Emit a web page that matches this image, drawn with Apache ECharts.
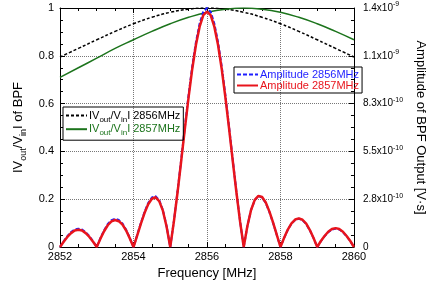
<!DOCTYPE html>
<html>
<head>
<meta charset="utf-8">
<script src="https://cdn.jsdelivr.net/npm/echarts@6/dist/echarts.min.js"></script>
<style>
  html, body { margin: 0; padding: 0; background: #fff; }
  #main { width: 435px; height: 287px; }
</style>
</head>
<body>
<div id="main"></div>
<script>
// sampling grid of the BPF output amplitude curves [MHz]
const fineFreq = [
  2852.0, 2852.1, 2852.2, 2852.3, 2852.4, 2852.5, 2852.6, 2852.7, 2852.8, 2852.9,
  2853.0, 2853.1, 2853.2, 2853.3, 2853.4, 2853.5, 2853.6, 2853.7, 2853.8, 2853.9,
  2854.0, 2854.1, 2854.2, 2854.3, 2854.4, 2854.5, 2854.6, 2854.7, 2854.8, 2854.9,
  2855.0, 2855.1, 2855.2, 2855.3, 2855.4, 2855.5, 2855.6, 2855.7, 2855.8, 2855.9,
  2856.0, 2856.1, 2856.2, 2856.3, 2856.4, 2856.5, 2856.6, 2856.7, 2856.8, 2856.9,
  2857.0, 2857.1, 2857.2, 2857.3, 2857.4, 2857.5, 2857.6, 2857.7, 2857.8, 2857.9,
  2858.0, 2858.1, 2858.2, 2858.3, 2858.4, 2858.5, 2858.6, 2858.7, 2858.8, 2858.9,
  2859.0, 2859.1, 2859.2, 2859.3, 2859.4, 2859.5, 2859.6, 2859.7, 2859.8, 2859.9,
  2860.0
];

// amplitude of BPF output, normalised to the right axis (1 = 1.4x10^-9 V*s)
const amp2856 = [
  0, .024, .045, .062, .073, .077, .073, .062, .045, .024,
  0, .037, .070, .096, .112, .118, .113, .098, .072, .038,
  0, .050, .100, .146, .184, .207, .213, .196, .155, .088,
  0, .109, .234, .368, .505, .637, .757, .858, .935, .984,
  1.0, .984, .935, .858, .757, .637, .505, .368, .234, .109,
  0, .088, .155, .196, .213, .207, .184, .146, .100, .050,
  0, .038, .072, .098, .113, .118, .112, .096, .070, .037,
  0, .024, .045, .062, .073, .077, .073, .062, .045, .024,
  0
];
const amp2857 = [
  0, .022, .042, .058, .069, .072, .069, .058, .042, .022,
  0, .035, .066, .091, .107, .113, .108, .094, .069, .036,
  0, .048, .097, .142, .179, .202, .208, .192, .152, .086,
  0, .107, .230, .362, .497, .627, .746, .846, .922, .970,
  .985, .970, .922, .846, .746, .627, .497, .362, .230, .107,
  0, .088, .155, .197, .214, .209, .186, .148, .102, .051,
  0, .039, .073, .099, .115, .120, .114, .098, .071, .038,
  0, .025, .046, .064, .075, .079, .075, .064, .046, .025,
  0
];

// |Vout/Vin| of the BPF
const coarseFreq = [2852, 2852.5, 2853, 2853.5, 2854, 2854.5, 2855, 2855.5, 2856,
  2856.5, 2857, 2857.5, 2858, 2858.5, 2859, 2859.5, 2860];
const gain2856 = [.795, .831, .867, .902, .934, .961, .982, .995, 1,
  .995, .982, .961, .934, .902, .867, .831, .795];
const gain2857 = [.71, .75, .79, .831, .867, .902, .934, .961, .982,
  .995, 1, .995, .982, .961, .934, .902, .867];

// right axis tick labels: mantissa and exponent
const rightMant = ['0', '2.8x10', '5.5x10', '8.3x10', '1.1x10', '1.4x10'];
const rightExp = ['', '-10', '-10', '-10', '-9', '-9'];

const FONT = 'Liberation Sans';

function pairs(xs, ys) {
  return xs.map((x, i) => [x, ys[i]]);
}

const legendText = {
  v2856: '{k|IV}{ks|out}{k|/V}{ks|in}{k|I 2856MHz}',
  v2857: '{g|IV}{gs|out}{g|/V}{gs|in}{g|I 2857MHz}',
  a2856: '{b|Amplitude 2856MHz}',
  a2857: '{r|Amplitude 2857MHz}'
};

const chart = echarts.init(document.getElementById('main'), null, { renderer: 'canvas' });

const frameTick = { show: true, inside: true, length: 5, lineStyle: { color: '#000' } };
const minorTick = { show: true, splitNumber: 4, length: 3, lineStyle: { color: '#000' } };
const gridLine = { show: true, lineStyle: { color: '#777', type: [1, 1], width: 1 } };

chart.setOption({
  animation: false,
  textStyle: { fontFamily: FONT },
  grid: { left: 60, right: 71, top: 8, bottom: 40 },
  legend: [
    {
      data: ['a2856', 'a2857'],
      orient: 'vertical',
      left: 234, top: 67,
      itemWidth: 21, itemHeight: 10, itemGap: 0,
      padding: [2, 3, 2, 2],
      borderColor: '#000', borderWidth: 1, borderRadius: 0,
      itemStyle: { opacity: 0 },
      formatter: n => legendText[n],
      textStyle: {
        fontSize: 11, fontFamily: FONT, padding: [0, 0, 0, -3],
        rich: {
          b: { color: '#1f1fff', fontSize: 11, fontFamily: FONT },
          r: { color: '#e8141c', fontSize: 11, fontFamily: FONT }
        }
      }
    },
    {
      data: ['v2856', 'v2857'],
      orient: 'vertical',
      left: 63, top: 107,
      itemWidth: 21, itemHeight: 14, itemGap: 0,
      padding: [3, 3, 3, 2],
      borderColor: '#000', borderWidth: 1, borderRadius: 0,
      itemStyle: { opacity: 0 },
      formatter: n => legendText[n],
      textStyle: {
        fontSize: 11, fontFamily: FONT, padding: [0, 0, 0, -3],
        rich: {
          k: { color: '#000', fontSize: 11, lineHeight: 16, fontFamily: FONT },
          ks: { color: '#000', fontSize: 8, lineHeight: 8, verticalAlign: 'bottom', fontFamily: FONT },
          g: { color: '#1c741c', fontSize: 11, lineHeight: 16, fontFamily: FONT },
          gs: { color: '#1c741c', fontSize: 8, lineHeight: 8, verticalAlign: 'bottom', fontFamily: FONT }
        }
      }
    }
  ],
  xAxis: [
    {
      type: 'value', min: 2852, max: 2860, interval: 2,
      axisLine: { show: true, onZero: false, lineStyle: { color: '#000' } },
      axisTick: frameTick, minorTick: minorTick,
      splitLine: gridLine,
      axisLabel: { color: '#000', fontSize: 11, margin: 4, fontFamily: FONT, formatter: v => String(v) },
      name: 'Frequency [MHz]', nameLocation: 'middle', nameGap: 20,
      nameTextStyle: { color: '#000', fontSize: 13, fontFamily: FONT }
    },
    {
      type: 'value', min: 2852, max: 2860, interval: 2, position: 'top',
      axisLine: { show: true, onZero: false, lineStyle: { color: '#000' } },
      axisTick: frameTick, minorTick: minorTick,
      splitLine: { show: false }, axisLabel: { show: false }
    }
  ],
  yAxis: [
    {
      type: 'value', min: 0, max: 1, interval: 0.2,
      axisLine: { show: true, onZero: false, lineStyle: { color: '#000' } },
      axisTick: frameTick, minorTick: minorTick,
      splitLine: gridLine,
      axisLabel: { color: '#000', fontSize: 11, margin: 6, fontFamily: FONT },
      name: '{n|IV}{s|out}{n|/V}{s|in}{n|I of BPF}',
      nameLocation: 'middle', nameRotate: 90, nameGap: 27,
      nameTextStyle: {
        color: '#000', fontFamily: FONT,
        rich: {
          n: { fontSize: 13, lineHeight: 18, color: '#000', fontFamily: FONT },
          s: { fontSize: 9, lineHeight: 9, verticalAlign: 'bottom', color: '#000', fontFamily: FONT }
        }
      }
    },
    {
      type: 'value', min: 0, max: 1, interval: 0.2, position: 'right',
      axisLine: { show: true, onZero: false, lineStyle: { color: '#000' } },
      axisTick: frameTick, minorTick: minorTick,
      splitLine: { show: false },
      axisLabel: {
        color: '#000', fontSize: 10, margin: 9, fontFamily: FONT,
        formatter: v => {
          const i = Math.round(v / 0.2);
          return rightExp[i] ? '{m|' + rightMant[i] + '}{e|' + rightExp[i] + '}' : '{m|' + rightMant[i] + '}';
        },
        rich: {
          m: { fontSize: 10, lineHeight: 14, color: '#000', fontFamily: FONT },
          e: { fontSize: 7, lineHeight: 7, verticalAlign: 'top', color: '#000', fontFamily: FONT }
        }
      },
      name: 'Amplitude of BPF Output [V\u00b7s]',
      nameLocation: 'middle', nameRotate: -90, nameGap: 50,
      nameTextStyle: { color: '#000', fontSize: 13, fontFamily: FONT }
    }
  ],
  series: [
    {
      name: 'v2856', type: 'line', xAxisIndex: 0, yAxisIndex: 0,
      data: pairs(coarseFreq, gain2856), smooth: true, symbol: 'none',
      color: '#000', lineStyle: { color: '#000', width: 1.5, type: [3, 2] }
    },
    {
      name: 'v2857', type: 'line', xAxisIndex: 0, yAxisIndex: 0,
      data: pairs(coarseFreq, gain2857), smooth: true, symbol: 'none',
      color: '#1c741c', lineStyle: { color: '#1c741c', width: 1.5 }
    },
    {
      name: 'a2856', type: 'line', xAxisIndex: 0, yAxisIndex: 1,
      data: pairs(fineFreq, amp2856), symbol: 'none',
      color: '#1f1fff', lineStyle: { color: '#1f1fff', width: 2, type: [4, 2] }
    },
    {
      name: 'a2857', type: 'line', xAxisIndex: 0, yAxisIndex: 1,
      data: pairs(fineFreq, amp2857), symbol: 'none',
      color: '#e8141c', lineStyle: { color: '#e8141c', width: 2.5 }
    }
  ]
});
</script>
</body>
</html>
